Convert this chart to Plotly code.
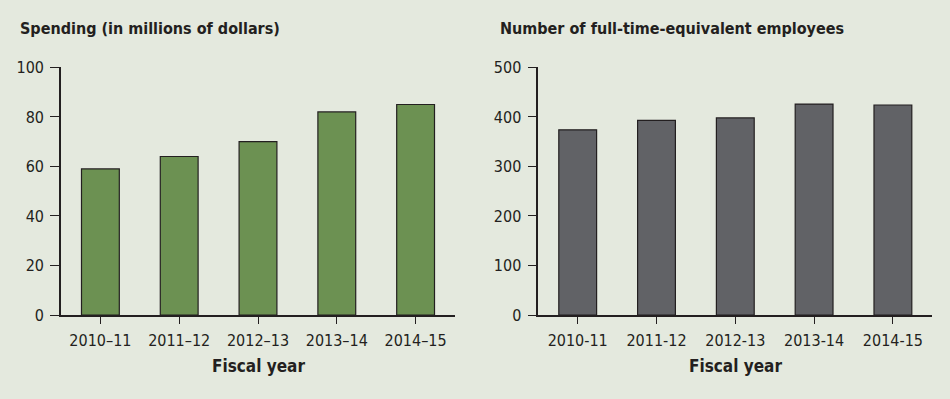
import plotly.graph_objects as go

years_left = ["2010–11", "2011–12", "2012–13", "2013–14", "2014–15"]
years_right = ["2010-11", "2011-12", "2012-13", "2013-14", "2014-15"]
spending = [59, 64, 70, 82, 85]
employees = [374, 393, 398, 426, 424]

W, H = 950, 399
BG = "#e4e9de"
DARK = "#231f20"
FONT = "DejaVu Sans Condensed, Liberation Sans Narrow, Roboto, sans-serif"

def px(x):
    return x / W

def py(y):
    return (H - y) / H

fig = go.Figure()
fig.add_trace(go.Bar(x=years_left, y=spending, xaxis="x", yaxis="y",
                     marker=dict(color="#6c9152", line=dict(color=DARK, width=1.2)),
                     width=0.48, hoverinfo="skip"))
fig.add_trace(go.Bar(x=years_right, y=employees, xaxis="x2", yaxis="y2",
                     marker=dict(color="#616266", line=dict(color=DARK, width=1.2)),
                     width=0.48, hoverinfo="skip"))

ydom = [py(321.3), py(61.3)]
common_x = dict(type="category", showline=True, linecolor=DARK, linewidth=1.6, ticks="outside",
                ticklen=7, tickcolor=DARK, tickwidth=1.2, showgrid=False,
                ticklabelstandoff=3,
                tickfont=dict(family=FONT, size=16, color="#231f20"),
                range=[-0.5, 4.5], fixedrange=True)
common_y = dict(showline=True, linecolor=DARK, linewidth=1.6, ticks="outside",
                ticklen=9, tickcolor=DARK, tickwidth=1.2, showgrid=False,
                zeroline=False, domain=ydom, ticklabelstandoff=3,
                tickfont=dict(family=FONT, size=16, color="#231f20"),
                fixedrange=True)

fig.update_layout(
    width=W, height=H, autosize=False,
    margin=dict(l=0, r=0, t=0, b=0),
    paper_bgcolor=BG, plot_bgcolor=BG,
    showlegend=False,
    xaxis=dict(domain=[px(61), px(455)], anchor="y", **common_x),
    yaxis=dict(anchor="x", range=[0, 100], tickvals=[0, 20, 40, 60, 80, 100], **common_y),
    xaxis2=dict(domain=[px(538.3), px(932.3)], anchor="y2", **common_x),
    yaxis2=dict(anchor="x2", range=[0, 500], tickvals=[0, 100, 200, 300, 400, 500], **common_y),
)

annotations = [
    dict(text="<b>Spending (in millions of dollars)</b>", x=px(18), y=py(20)),
    dict(text="<b>Number of full-time-equivalent employees</b>", x=px(497.5), y=py(20)),
]
for a in annotations:
    a.update(xref="paper", yref="paper", xanchor="left", yanchor="middle", showarrow=False,
             font=dict(family=FONT, size=16, color="#231f20"))
    fig.add_annotation(**a)

for cx in [(61 + 455) / 2, (538.3 + 932.3) / 2]:
    fig.add_annotation(text="<b>Fiscal year</b>", x=px(cx), y=py(375), xref="paper", yref="paper",
                       xanchor="center", yanchor="middle", showarrow=False,
                       font=dict(family=FONT, size=17, color="#231f20"))

post = (
    "document.documentElement.style.margin='0';"
    "document.documentElement.style.overflow='hidden';"
    "document.body.style.margin='0';"
    "document.body.style.overflow='hidden';"
)
fig.write_html("out.html", config={"responsive": False, "displayModeBar": False},
               post_script=post)
